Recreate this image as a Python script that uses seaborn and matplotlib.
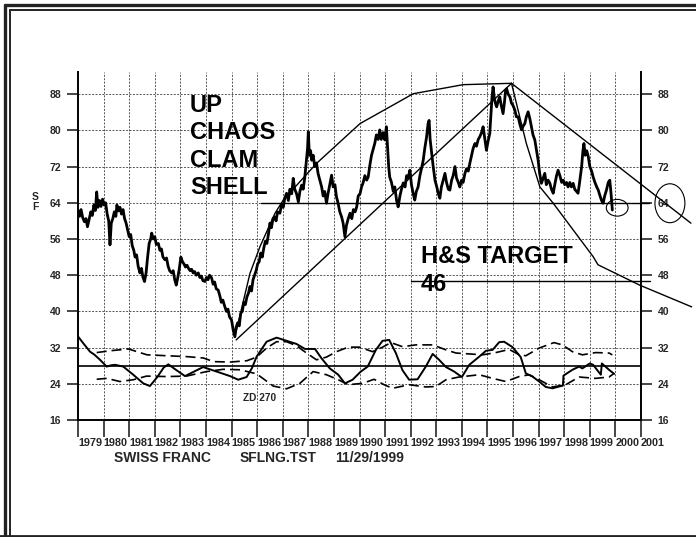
import numpy as np
import pandas as pd
import matplotlib
matplotlib.use("Agg")
import matplotlib.pyplot as plt
from matplotlib.patches import Ellipse
from matplotlib.lines import Line2D
import seaborn as sns

# --- price series (decimal year, value) ---
price_t = [1979.00, 1979.06, 1979.12, 1979.18, 1979.25, 1979.31, 1979.37, 1979.43, 1979.50, 1979.56,
           1979.62, 1979.68, 1979.73, 1979.78, 1979.84, 1979.90, 1979.96, 1980.02, 1980.08, 1980.14,
           1980.20, 1980.25, 1980.30, 1980.36, 1980.42, 1980.48, 1980.52, 1980.58, 1980.64, 1980.70,
           1980.76, 1980.82, 1980.88, 1980.94, 1981.00, 1981.06, 1981.12, 1981.18, 1981.23, 1981.29,
           1981.35, 1981.42, 1981.48, 1981.54, 1981.60, 1981.66, 1981.72, 1981.78, 1981.84, 1981.88,
           1981.94, 1982.00, 1982.06, 1982.14, 1982.20, 1982.26, 1982.32, 1982.40, 1982.46, 1982.52,
           1982.58, 1982.66, 1982.72, 1982.78, 1982.84, 1982.90, 1982.96, 1983.02, 1983.08, 1983.14,
           1983.20, 1983.26, 1983.31, 1983.38, 1983.44, 1983.50, 1983.56, 1983.62, 1983.70, 1983.76,
           1983.82, 1983.88, 1983.96, 1984.02, 1984.08, 1984.14, 1984.22, 1984.28, 1984.34, 1984.40,
           1984.48, 1984.54, 1984.60, 1984.66, 1984.74, 1984.80, 1984.86, 1984.92, 1985.00, 1985.06,
           1985.13, 1985.18, 1985.24, 1985.30, 1985.36, 1985.42, 1985.48, 1985.54, 1985.60, 1985.66,
           1985.72, 1985.78, 1985.84, 1985.90, 1985.96, 1986.02, 1986.08, 1986.14, 1986.20, 1986.26,
           1986.32, 1986.38, 1986.44, 1986.50, 1986.56, 1986.62, 1986.68, 1986.74, 1986.80, 1986.89,
           1986.95, 1987.02, 1987.08, 1987.15, 1987.22, 1987.28, 1987.35, 1987.41, 1987.47, 1987.54,
           1987.61, 1987.67, 1987.74, 1987.80, 1987.86, 1987.92, 1987.97, 1988.00, 1988.04, 1988.09,
           1988.13, 1988.19, 1988.25, 1988.32, 1988.38, 1988.45, 1988.52, 1988.58, 1988.64, 1988.71,
           1988.77, 1988.84, 1988.91, 1988.97, 1989.04, 1989.10, 1989.16, 1989.23, 1989.30, 1989.36,
           1989.43, 1989.49, 1989.56, 1989.63, 1989.70, 1989.76, 1989.83, 1989.89, 1989.95, 1990.02,
           1990.08, 1990.14, 1990.21, 1990.28, 1990.34, 1990.41, 1990.47, 1990.54, 1990.60, 1990.66,
           1990.73, 1990.79, 1990.85, 1990.92, 1990.99, 1991.05, 1991.10, 1991.14, 1991.18, 1991.25,
           1991.32, 1991.38, 1991.45, 1991.51, 1991.58, 1991.64, 1991.71, 1991.78, 1991.84, 1991.90,
           1991.97, 1992.03, 1992.10, 1992.16, 1992.22, 1992.29, 1992.36, 1992.42, 1992.49, 1992.55,
           1992.62, 1992.68, 1992.72, 1992.76, 1992.82, 1992.88, 1992.95, 1993.02, 1993.08, 1993.14,
           1993.20, 1993.27, 1993.34, 1993.40, 1993.47, 1993.53, 1993.60, 1993.66, 1993.73, 1993.79,
           1993.86, 1993.92, 1993.99, 1994.05, 1994.12, 1994.18, 1994.25, 1994.31, 1994.38, 1994.44,
           1994.51, 1994.57, 1994.64, 1994.70, 1994.77, 1994.83, 1994.90, 1994.96, 1995.02, 1995.09,
           1995.14, 1995.18, 1995.22, 1995.27, 1995.31, 1995.36, 1995.42, 1995.48, 1995.54, 1995.61,
           1995.66, 1995.71, 1995.75, 1995.81, 1995.88, 1995.94, 1996.00, 1996.07, 1996.13, 1996.20,
           1996.26, 1996.33, 1996.40, 1996.46, 1996.52, 1996.59, 1996.66, 1996.72, 1996.78, 1996.85,
           1996.92, 1996.98, 1997.04, 1997.11, 1997.18, 1997.24, 1997.30, 1997.37, 1997.44, 1997.50,
           1997.57, 1997.63, 1997.70, 1997.76, 1997.83, 1997.90, 1997.96, 1998.02, 1998.09, 1998.15,
           1998.22, 1998.28, 1998.35, 1998.41, 1998.48, 1998.54, 1998.60, 1998.68, 1998.73, 1998.77,
           1998.82, 1998.88, 1998.94, 1999.00, 1999.07, 1999.13, 1999.20, 1999.27, 1999.33, 1999.40,
           1999.46, 1999.52, 1999.58, 1999.65, 1999.72, 1999.78, 1999.83, 1999.88]
price_v = [62.4, 61.0, 62.5, 60.8, 59.8, 60.5, 58.7, 60.2, 62.0, 61.2,
           63.5, 62.3, 66.4, 63.0, 64.5, 63.2, 64.8, 63.5, 64.0, 61.5,
           60.0, 54.7, 59.5, 60.5, 62.0, 61.0, 63.5, 62.2, 63.0, 61.5,
           62.5, 60.5, 59.5, 58.0, 56.5, 57.0, 54.5, 53.5, 52.0, 52.5,
           50.0, 48.5, 49.5, 47.5, 46.6, 48.5, 52.0, 55.0, 56.0, 57.3,
           56.0, 56.5, 54.8, 55.0, 53.5, 53.8, 52.0, 51.4, 51.8, 50.0,
           49.0, 48.5, 49.0, 47.0, 45.8, 47.5, 49.5, 52.0, 51.0, 50.5,
           49.8, 50.2, 49.6, 49.0, 49.3, 48.5, 48.8, 48.0, 48.5, 47.5,
           47.8, 46.8, 46.6, 47.5, 47.0, 48.0, 47.4, 46.0, 46.5, 45.0,
           44.7, 43.5, 42.0, 42.5, 41.0, 40.0, 40.5, 38.8, 38.1, 36.0,
           34.4, 36.5, 37.5, 36.8, 39.6, 40.0, 42.0, 41.5, 43.2, 44.0,
           45.5, 44.5, 47.0, 48.0, 49.0, 50.5, 51.0, 52.9, 52.0, 54.0,
           55.5, 55.0, 57.0, 59.5, 58.5, 60.5, 60.9, 60.0, 62.0, 61.7,
           63.5, 63.0, 65.0, 66.1, 64.5, 67.0, 66.0, 69.4, 67.0, 66.0,
           64.2, 66.5, 67.9, 67.0, 69.5, 73.0, 76.0, 79.7, 74.5, 75.5,
           73.4, 74.5, 72.0, 72.8, 70.5, 69.0, 67.5, 65.5, 66.5, 63.9,
           66.0, 68.0, 70.1, 67.5, 68.0, 65.3, 64.0, 62.0, 60.9, 59.5,
           56.5, 59.0, 60.5, 61.7, 60.5, 62.5, 62.0, 63.1, 65.5, 66.0,
           67.5, 68.4, 70.0, 69.0, 69.7, 72.5, 74.5, 76.0, 77.2, 79.0,
           78.0, 80.1, 78.0, 79.5, 77.9, 80.8, 76.0, 72.0, 69.7, 68.5,
           66.5, 67.5, 64.5, 63.1, 65.5, 67.0, 68.4, 67.5, 70.0, 69.5,
           71.2, 68.0, 66.0, 64.6, 66.5, 67.5, 70.0, 71.5, 73.4, 76.0,
           78.5, 81.5, 82.2, 78.0, 74.9, 72.0, 69.0, 67.5, 66.0, 65.0,
           67.5, 69.0, 70.5, 68.5, 67.0, 66.8, 69.0, 70.0, 72.0, 69.5,
           68.5, 67.5, 69.0, 68.5, 70.5, 71.5, 71.0, 72.7, 74.5, 76.0,
           77.1, 76.5, 78.0, 78.6, 79.5, 80.8, 78.0, 75.6, 77.5, 79.3,
           84.0, 87.5, 89.6, 87.0, 86.0, 85.2, 86.5, 87.4, 85.5, 83.7,
           86.0, 88.9, 89.2, 88.0, 87.4, 86.0, 85.5, 84.5, 83.0, 83.0,
           81.5, 80.1, 81.0, 81.5, 83.0, 84.1, 82.5, 80.8, 79.0, 77.9,
           75.5, 73.4, 70.5, 68.3, 69.5, 70.5, 68.0, 69.0, 68.3, 67.0,
           66.1, 68.0, 70.0, 71.2, 70.0, 68.5, 69.0, 68.0, 68.5, 67.5,
           68.5, 67.5, 68.3, 67.0, 66.5, 66.1, 68.5, 72.0, 75.5, 77.1,
           74.5, 75.5, 74.2, 72.0, 71.0, 69.7, 68.5, 67.5, 66.8, 65.5,
           64.5, 63.9, 65.5, 66.8, 68.5, 69.0, 66.0, 62.4]

# --- oscillator (ZD 270) and its bands ---
osc_t = [1979.01, 1979.20, 1979.47, 1979.65, 1979.86, 1980.12, 1980.30, 1980.45, 1980.77, 1981.16,
         1981.55, 1981.81, 1982.10, 1982.35, 1982.53, 1982.80, 1983.18, 1983.50, 1983.89, 1984.42,
         1984.94, 1985.26, 1985.59, 1985.80, 1985.98, 1986.37, 1986.76, 1987.15, 1987.54, 1987.87,
         1988.26, 1988.52, 1988.84, 1989.17, 1989.43, 1989.73, 1990.05, 1990.32, 1990.64, 1990.90,
         1991.16, 1991.42, 1991.68, 1991.94, 1992.27, 1992.59, 1992.86, 1993.11, 1993.38, 1993.70,
         1994.00, 1994.29, 1994.68, 1994.94, 1995.20, 1995.46, 1995.65, 1995.98, 1996.30, 1996.50,
         1996.76, 1997.02, 1997.28, 1997.54, 1997.80, 1997.95, 1997.97, 1998.32, 1998.58, 1998.71,
         1999.00, 1999.13, 1999.43, 1999.47, 1999.75, 1999.95]
osc_v = [34.4, 33.0, 31.1, 30.4, 29.3, 27.8, 28.1, 28.2, 27.8, 26.0,
         24.1, 23.5, 25.5, 27.6, 28.3, 27.2, 25.7, 26.6, 27.7, 26.7,
         25.7, 24.9, 25.5, 27.5, 30.0, 33.3, 34.2, 33.5, 32.8, 31.7,
         31.7, 29.6, 27.4, 26.0, 24.1, 24.9, 26.7, 27.8, 31.5, 33.5,
         33.7, 30.8, 27.0, 24.9, 25.0, 27.8, 30.6, 29.3, 27.7, 26.7,
         25.5, 28.2, 30.0, 31.3, 31.5, 33.2, 33.3, 32.1, 29.9, 26.3,
         25.6, 24.5, 23.3, 23.0, 23.4, 23.6, 25.8, 27.1, 27.8, 27.4,
         28.5, 28.2, 26.0, 28.5, 27.1, 26.2]

band_hi_t = [1979.73, 1980.25, 1980.97, 1981.70, 1982.48, 1983.26, 1983.90, 1984.30, 1984.94, 1985.60,
             1985.98, 1986.37, 1986.76, 1987.15, 1987.54, 1987.93, 1988.32, 1988.71, 1989.10, 1989.56,
             1990.00, 1990.51, 1990.90, 1991.23, 1991.68, 1992.20, 1992.86, 1993.38, 1993.77, 1994.29,
             1994.81, 1995.33, 1995.85, 1996.24, 1996.50, 1997.02, 1997.60, 1997.93, 1998.32, 1998.71,
             1999.23, 1999.75, 1999.88]
band_hi_v = [30.9, 31.3, 31.7, 30.4, 30.2, 30.0, 29.7, 28.9, 28.8, 29.1,
             29.9, 31.9, 33.3, 33.3, 32.4, 30.8, 29.3, 29.9, 31.1, 32.1,
             32.1, 31.1, 32.1, 33.1, 32.2, 32.6, 32.6, 31.5, 30.8, 30.6,
             30.4, 30.9, 31.6, 30.4, 30.2, 31.9, 33.1, 32.6, 31.1, 30.4,
             30.9, 30.8, 30.4]
band_lo_t = [1979.73, 1980.12, 1980.64, 1981.16, 1981.68, 1982.46, 1983.24, 1984.02, 1984.67, 1985.33,
             1985.98, 1986.63, 1987.15, 1987.67, 1988.19, 1988.71, 1989.17, 1989.56, 1990.12, 1990.57,
             1990.96, 1991.29, 1991.94, 1992.59, 1992.98, 1993.38, 1993.89, 1994.68, 1995.20, 1995.72,
             1996.24, 1996.63, 1997.02, 1997.54, 1998.06, 1998.58, 1999.23, 1999.75, 1999.95]
band_lo_v = [25.0, 25.2, 24.5, 24.9, 25.7, 25.6, 25.7, 26.7, 27.2, 27.1,
             26.2, 23.5, 22.9, 24.1, 26.7, 26.0, 24.9, 23.8, 24.1, 25.0,
             23.8, 23.0, 23.8, 23.3, 23.4, 24.9, 25.5, 26.0, 25.2, 24.5,
             25.6, 26.0, 24.9, 23.3, 23.8, 25.5, 25.2, 25.5, 26.3]
osc_mid = 28.0

# --- hand-drawn trend lines ---
arc_t = [1985.13, 1985.72, 1986.11, 1986.70, 1987.02, 1988.32, 1990.02, 1992.10, 1994.05, 1995.94]
arc_v = [34.4, 48.4, 54.3, 61.7, 64.6, 72.7, 81.5, 88.1, 90.1, 90.4]
up_line_t = [1985.18, 1995.94]
up_line_v = [33.7, 90.4]
down_line_t = [1995.94, 2002.95]
down_line_v = [90.4, 59.5]
fall_t = [1995.94, 1996.13, 1996.52, 1997.05, 1997.57, 1998.35, 1999.13, 1999.32, 2000.95, 2002.98]
fall_v = [90.4, 86.0, 77.1, 67.5, 63.9, 58.0, 52.1, 50.3, 45.8, 41.0]
neck_t = [1986.15, 2001.3]
neck_v = [63.9, 63.9]
target_t = [1992.0, 2001.35]
target_v = [46.8, 46.8]

years = list(range(1979, 2002))
yticks = list(range(16, 89, 8))

sns.set_style("white")
plt.rcParams['font.family'] = ['Liberation Sans', 'DejaVu Sans']

fig = plt.figure(figsize=(6.96, 5.37), dpi=100)
ax = fig.add_axes([78 / 696, 117 / 537, 563 / 696, 348 / 537])

# grid
for yr in years[1:-1]:
    ax.axvline(yr, color='#555555', lw=0.7, ls=(0, (2, 1.5)), zorder=0)
for yv in yticks[1:]:
    ax.axhline(yv, color='#555555', lw=0.7, ls=(0, (2, 1.5)), zorder=0)

# price and oscillator
sns.lineplot(x=price_t, y=price_v, ax=ax, color='black', lw=2.0, sort=False, estimator=None)
sns.lineplot(x=osc_t, y=osc_v, ax=ax, color='black', lw=1.4, sort=False, estimator=None)
sns.lineplot(x=band_hi_t, y=band_hi_v, ax=ax, color='black', lw=1.2, sort=False, estimator=None,
             dashes=False, linestyle=(0, (6, 3)))
sns.lineplot(x=band_lo_t, y=band_lo_v, ax=ax, color='black', lw=1.2, sort=False, estimator=None,
             dashes=False, linestyle=(0, (6, 3)))
ax.axhline(osc_mid, color='black', lw=1.2)

# trend lines
for tx, ty in [(arc_t, arc_v), (up_line_t, up_line_v), (down_line_t, down_line_v),
               (fall_t, fall_v), (neck_t, neck_v), (target_t, target_v)]:
    ax.plot(tx, ty, color='black', lw=1.0, clip_on=False)

ax.add_patch(Ellipse((2000.07, 62.9), 0.85, 3.7, fill=False, ec='black', lw=0.8, clip_on=False))
ax.add_patch(Ellipse((2002.13, 63.9), 1.17, 8.6, fill=False, ec='black', lw=0.8, clip_on=False))

ax.set_xlim(1979, 2001)
ax.set_ylim(16, 92.9)
ax.set_xticks(years)
ax.set_xticklabels([str(y) for y in years], ha='left', fontsize=7.8, fontweight='bold')
ax.set_yticks(yticks)
ax.set_yticklabels([str(v) for v in yticks], fontsize=7.5, fontweight='bold')
ax.tick_params(axis='x', direction='out', length=12, width=1.2, pad=1, bottom=True)
ax.tick_params(axis='y', direction='out', length=8, width=1.2, pad=4,
               left=True, right=True, labelleft=True, labelright=True)
ax.set_xlabel('')
ax.set_ylabel('')
ax.spines['top'].set_visible(False)
for s in ['left', 'right', 'bottom']:
    ax.spines[s].set_linewidth(1.4)
    ax.spines[s].set_color('black')

# annotations
big = dict(fontsize=17, fontweight='bold', color='black')
for label, yv in [('UP', 84.1), ('CHAOS', 78.2), ('CLAM', 72.0), ('SHELL', 65.9)]:
    ax.text(1983.375, yv, label, va='baseline', ha='left', **big)
ax.text(1992.4, 50.7, 'H&S TARGET', va='baseline', ha='left', **big)
ax.text(1992.4, 44.4, '46', va='baseline', ha='left', **big)
ax.text(1985.45, 20.1, 'ZD 270', va='baseline', ha='left', fontsize=7.3, fontweight='bold')

fig.text(35 / 696, 1 - 197 / 537, 'S', fontsize=7.5, fontweight='bold', ha='center', va='center')
fig.text(35 / 696, 1 - 207 / 537, 'F', fontsize=7.5, fontweight='bold', ha='center', va='center')
for txt, xp in [('SWISS FRANC', 114), ('SFLNG.TST', 240), ('11/29/1999', 335)]:
    fig.text(xp / 696, 1 - 461.7 / 537, txt, fontsize=10, fontweight='bold', ha='left', va='baseline')

# double frame around the page
W, H = 696, 537
fig.add_artist(Line2D([5 / W, 5 / W], [0, 1 - 5 / H], color='#222222', lw=2.4))
fig.add_artist(Line2D([5 / W, 1], [1 - 5 / H, 1 - 5 / H], color='#222222', lw=2.4))
fig.add_artist(Line2D([9.5 / W, 9.5 / W], [0, 1 - 10 / H], color='#222222', lw=1.4))
fig.add_artist(Line2D([9.5 / W, 1], [1 - 10 / H, 1 - 10 / H], color='#222222', lw=1.4))
fig.add_artist(Line2D([0, 1], [1.5 / H, 1.5 / H], color='#222222', lw=2.0))

fig.savefig('out.png', dpi=100, facecolor='white')
